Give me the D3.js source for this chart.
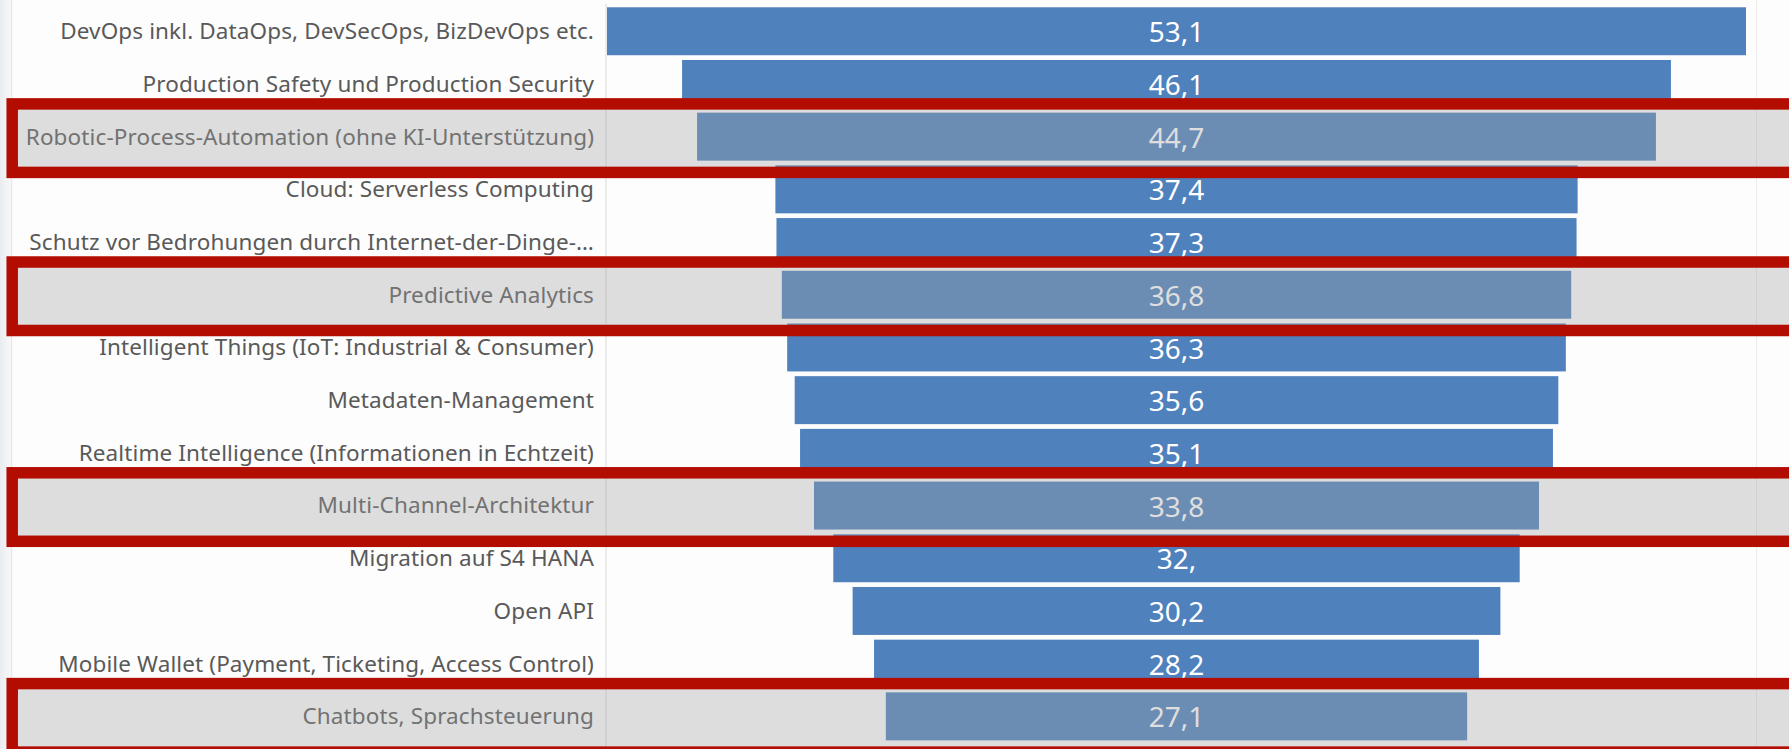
<!DOCTYPE html>
<html>
<head>
<meta charset="utf-8">
<script src="https://cdn.jsdelivr.net/npm/d3@7"></script>
<style>
  html, body { margin: 0; padding: 0; background: #fdfdfd; }
  svg { display: block; }
</style>
</head>
<body>
<svg id="chart" width="1789" height="749"></svg>
<script>
const categories = [
  "DevOps inkl. DataOps, DevSecOps, BizDevOps etc.",
  "Production Safety und Production Security",
  "Robotic-Process-Automation (ohne KI-Unterstützung)",
  "Cloud: Serverless Computing",
  "Schutz vor Bedrohungen durch Internet-der-Dinge-…",
  "Predictive Analytics",
  "Intelligent Things (IoT: Industrial & Consumer)",
  "Metadaten-Management",
  "Realtime Intelligence (Informationen in Echtzeit)",
  "Multi-Channel-Architektur",
  "Migration auf S4 HANA",
  "Open API",
  "Mobile Wallet (Payment, Ticketing, Access Control)",
  "Chatbots, Sprachsteuerung"
];
const values = [53.1, 46.1, 44.7, 37.4, 37.3, 36.8, 36.3, 35.6, 35.1, 33.8, 32.0, 30.2, 28.2, 27.1];
const valueLabels = ["53,1", "46,1", "44,7", "37,4", "37,3", "36,8", "36,3", "35,6", "35,1", "33,8", "32,", "30,2", "28,2", "27,1"];
const highlighted = [
  "Robotic-Process-Automation (ohne KI-Unterstützung)",
  "Predictive Analytics",
  "Multi-Channel-Architektur",
  "Chatbots, Sprachsteuerung"
];

const W = 1789, H = 749;
const svg = d3.select("#chart");
const maxV = d3.max(values);

const x = d3.scaleLinear().domain([0, maxV]).range([607, 1746]);
const y = d3.scaleBand().domain(categories).range([4.9, 742.7])
  .paddingInner(0.09).paddingOuter(0.045);

// background
svg.append("rect").attr("x", 0).attr("y", 0).attr("width", W).attr("height", H).attr("fill", "#fdfdfd");
const defs = svg.append("defs");
const lg = defs.append("linearGradient").attr("id", "edge").attr("x1", 0).attr("x2", 1).attr("y1", 0).attr("y2", 0);
lg.append("stop").attr("offset", "0%").attr("stop-color", "#e9ecf0");
lg.append("stop").attr("offset", "100%").attr("stop-color", "#f8f8f9");
svg.append("rect").attr("x", 0).attr("y", 0).attr("width", 11).attr("height", H).attr("fill", "url(#edge)");

// chart borders
svg.append("line").attr("x1", 11.7).attr("x2", 11.7).attr("y1", 0).attr("y2", H)
  .attr("stroke", "#e3e3e3").attr("stroke-width", 1);
svg.append("line").attr("x1", 1756.5).attr("x2", 1756.5).attr("y1", 0).attr("y2", H)
  .attr("stroke", "#ececec").attr("stroke-width", 1);

// category axis line
svg.append("line").attr("x1", 606).attr("x2", 606).attr("y1", 4).attr("y2", H)
  .attr("stroke", "#d9d9d9").attr("stroke-width", 1);

// category labels
svg.append("g").selectAll("text").data(categories).join("text")
  .attr("x", 594)
  .attr("y", d => y(d) + y.bandwidth() / 2)
  .attr("dy", "0.35em")
  .attr("text-anchor", "end")
  .attr("font-family", "'Noto Sans', 'Open Sans', sans-serif")
  .attr("font-size", 22.5)
  .attr("letter-spacing", 0.12)
  .attr("fill", "#595959")
  .text(d => d);

// bars (funnel: centered)
svg.append("g").selectAll("rect").data(values).join("rect")
  .attr("x", d => x((maxV - d) / 2))
  .attr("y", (d, i) => y(categories[i]))
  .attr("width", d => x(d) - x(0))
  .attr("height", y.bandwidth())
  .attr("fill", "#4f81bd");

// value labels
svg.append("g").selectAll("text").data(values).join("text")
  .attr("x", x(maxV / 2))
  .attr("y", (d, i) => y(categories[i]) + y.bandwidth() / 2 + 1)
  .attr("dy", "0.36em")
  .attr("text-anchor", "middle")
  .attr("font-family", "'Noto Sans', 'Open Sans', sans-serif")
  .attr("font-size", 28)
  .attr("fill", "#ffffff")
  .text((d, i) => valueLabels[i]);

// highlight overlays and red boxes
const boxH = 68.5;
const hl = svg.append("g");
hl.selectAll("rect.ov").data(highlighted).join("rect")
  .attr("class", "ov")
  .attr("x", 12)
  .attr("y", d => y(d) + y.bandwidth() / 2 + 1.5 - boxH / 2)
  .attr("width", W)
  .attr("height", boxH)
  .attr("fill", "#a0a0a0")
  .attr("fill-opacity", 0.35);
hl.selectAll("rect.box").data(highlighted).join("rect")
  .attr("class", "box")
  .attr("x", 12.2)
  .attr("y", d => y(d) + y.bandwidth() / 2 + 1.5 - boxH / 2)
  .attr("width", W + 20)
  .attr("height", boxH)
  .attr("fill", "none")
  .attr("stroke", "#b30c00")
  .attr("stroke-width", 11.5);
</script>
</body>
</html>
